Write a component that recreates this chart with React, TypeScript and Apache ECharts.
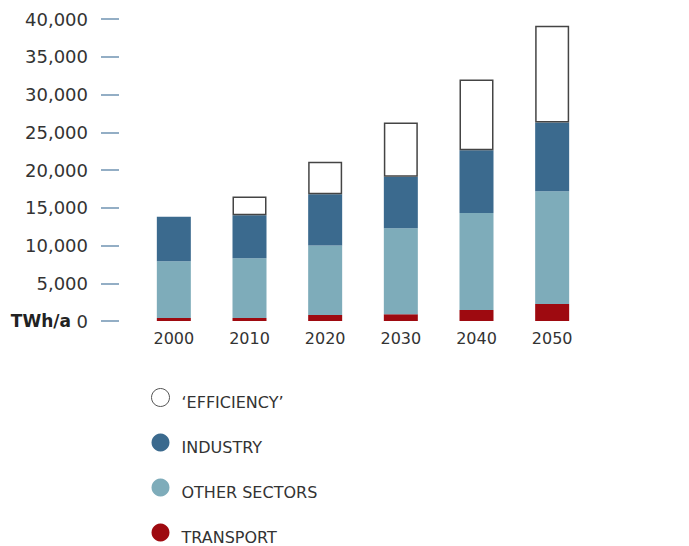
import React, { useEffect, useRef } from "react";
import * as echarts from "echarts";

const years = ["2000", "2010", "2020", "2030", "2040", "2050"];
const transport = [400, 400, 800, 900, 1450, 2250];
const otherSectors = [7500, 7900, 9200, 11400, 12850, 14950];
const industry = [5900, 5700, 6800, 6800, 8300, 9100];
const efficiency: (number | string)[] = ["-", 2500, 4300, 7200, 9400, 12800];
const legendNames = ["\u2018EFFICIENCY\u2019", "INDUSTRY", "OTHER SECTORS", "TRANSPORT"];

export default function App() {
  const ref = useRef<HTMLDivElement>(null);
  useEffect(() => {
    if (!ref.current) return;
    const chart = echarts.init(ref.current, null, { renderer: "svg" });
    const barW = 34;
    chart.setOption({
      animation: false,
      backgroundColor: "#ffffff",
      grid: { left: 136, right: 99, top: 19, bottom: 225, containLabel: false },
      xAxis: {
        type: "category",
        data: years,
        axisLine: { show: false },
        axisTick: { show: false },
        axisLabel: {
          color: "#333333",
          fontFamily: "DejaVu Sans",
          fontSize: 16,
          margin: 9,
        },
      },
      yAxis: {
        type: "value",
        min: 0,
        max: 40000,
        interval: 5000,
        offset: 17,
        splitLine: { show: false },
        axisLine: { show: false },
        axisTick: { show: true, length: 18, lineStyle: { color: "#6f93b2", width: 1.5 } },
        axisLabel: {
          color: "#333333",
          fontFamily: "DejaVu Sans",
          fontSize: 18,
          margin: 31,
          formatter: (v: number) => v.toLocaleString("en-US"),
        },
      },
      legend: {
        orient: "vertical",
        left: 151,
        top: 388,
        height: 300,
        padding: 0,
        itemWidth: 18,
        itemHeight: 18,
        itemGap: 23,
        icon: "circle",
        selectedMode: false,
        formatter: (name: string) => `{t|${name}}`,
        textStyle: {
          color: "#333333",
          fontFamily: "DejaVu Sans",
          fontSize: 16,
          rich: {
            t: {
              color: "#333333",
              fontFamily: "DejaVu Sans",
              fontSize: 16,
              padding: [10, 0, 0, 7],
            },
          },
        },
        data: [
          { name: legendNames[0], itemStyle: { color: "#ffffff", borderColor: "#555555", borderWidth: 1 } },
          { name: legendNames[1] },
          { name: legendNames[2] },
          { name: legendNames[3] },
        ],
      },
      graphic: [
        {
          type: "text",
          x: 71,
          y: 321,
          style: {
            text: "TWh/a",
            align: "right",
            verticalAlign: "middle",
            fontFamily: "DejaVu Sans",
            fontWeight: "bold",
            fontSize: 17,
            fill: "#222222",
          },
        },
      ],
      series: [
        {
          name: legendNames[3],
          type: "bar",
          stack: "total",
          barWidth: barW,
          data: transport,
          itemStyle: { color: "#9e0a10" },
        },
        {
          name: legendNames[2],
          type: "bar",
          stack: "total",
          barWidth: barW,
          data: otherSectors,
          itemStyle: { color: "#7eacba" },
        },
        {
          name: legendNames[1],
          type: "bar",
          stack: "total",
          barWidth: barW,
          data: industry,
          itemStyle: { color: "#3b6a8e" },
        },
        {
          name: legendNames[0],
          type: "bar",
          stack: "total",
          barWidth: barW,
          data: efficiency,
          itemStyle: { color: "#ffffff", borderColor: "#444444", borderWidth: 1.5 },
        },
      ],
    });
    return () => chart.dispose();
  }, []);
  return (
    <div
      ref={ref}
      style={{ position: "absolute", left: 0, top: 0, width: 689, height: 546 }}
    />
  );
}
